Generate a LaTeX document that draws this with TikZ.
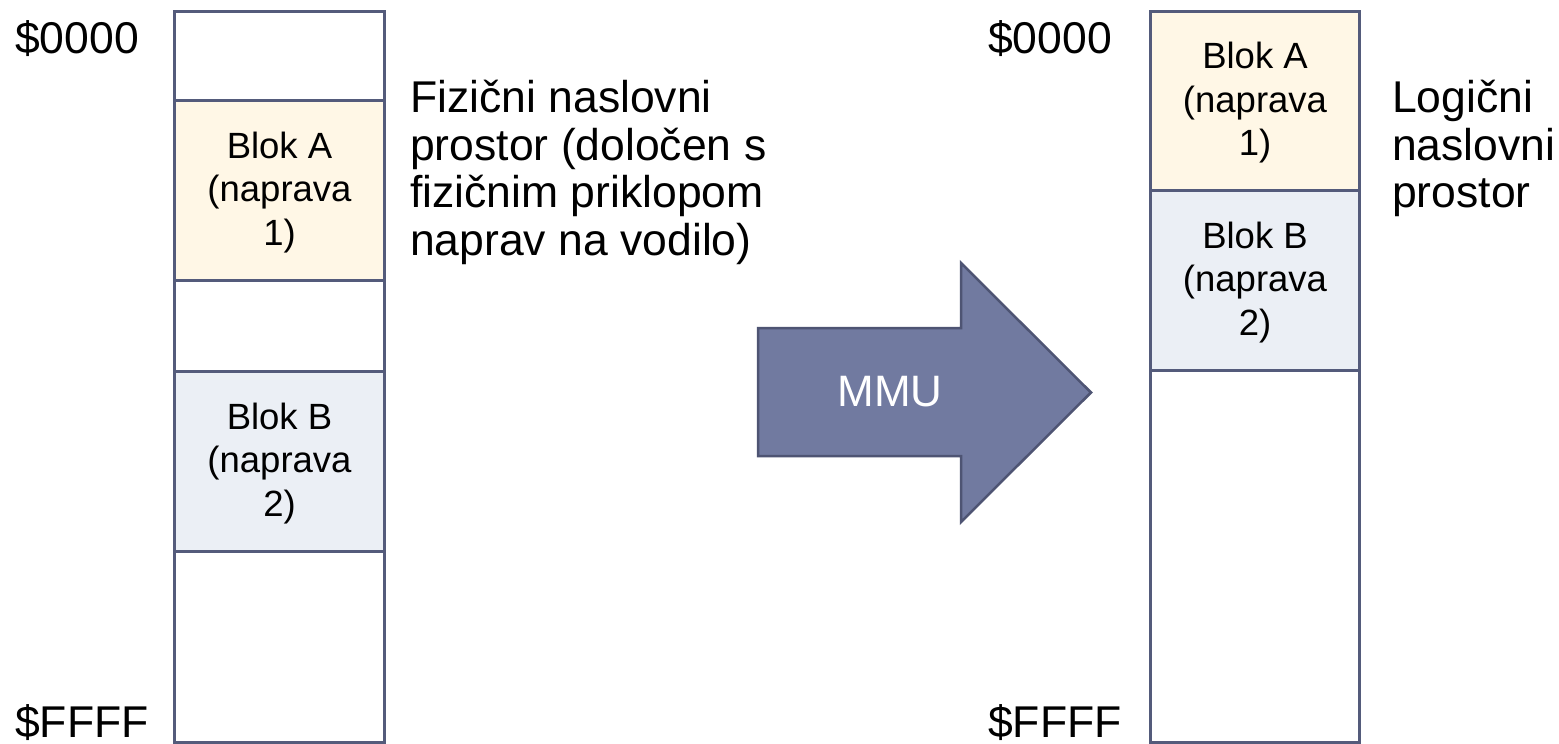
\documentclass[tikz,border=0pt]{standalone}
\usepackage{fontspec}
\setmainfont{Liberation Sans}
\definecolor{edge}{HTML}{545B7B}
\definecolor{blokA}{HTML}{FFF7E6}
\definecolor{blokB}{HTML}{EBEFF5}
\definecolor{mmufill}{HTML}{717AA0}
\definecolor{mmuedge}{HTML}{4E5473}
\tikzset{
  seg/.style={draw=edge, line width=3pt, anchor=north west, inner sep=0pt},
  blk/.style={inner sep=0pt, align=center, font=\fontsize{36.5}{43.5}\selectfont},
  addr/.style={anchor=base west, inner sep=0pt, font=\fontsize{44.5}{48}\selectfont},
  desc/.style={anchor=north west, inner sep=0pt, align=left,
    font=\fontsize{44.5}{47.5}\selectfont}
}
\begin{document}
\begin{tikzpicture}[x=1pt,y=-1pt]
\useasboundingbox[fill=white] (0,0) rectangle (1559,744);

% physical address space
\node[seg, minimum width=210pt, minimum height=89pt]  (p0) at (173,10) {};
\node[seg, fill=blokA, minimum width=210pt, minimum height=180pt] (pA) at (173,99) {};
\node[seg, minimum width=210pt, minimum height=91pt]  (p1) at (173,279) {};
\node[seg, fill=blokB, minimum width=210pt, minimum height=180pt] (pB) at (173,370) {};
\node[seg, minimum width=210pt, minimum height=191pt] (p2) at (173,550) {};
\node[blk, yshift=-2pt] (pAt) at (pA.center) {Blok A\\(naprava\\1)};
\node[blk, yshift=-2pt] (pBt) at (pB.center) {Blok B\\(naprava\\2)};

\node[addr] (pstart) at (15,53) {\$0000};
\node[addr] (pend) at (15,737) {\$FFFF};
\node[desc] (pdesc) at (410,80) {Fizični naslovni\\prostor (določen s\\fizičnim priklopom\\naprav na vodilo)};

% logical address space
\node[seg, fill=blokA, minimum width=209pt, minimum height=179pt] (lA) at (1149,10) {};
\node[seg, fill=blokB, minimum width=209pt, minimum height=180pt] (lB) at (1149,189) {};
\node[seg, minimum width=209pt, minimum height=372pt] (l0) at (1149,369) {};
\node[blk, yshift=-2pt] (lAt) at (lA.center) {Blok A\\(naprava\\1)};
\node[blk, yshift=-2pt] (lBt) at (lB.center) {Blok B\\(naprava\\2)};

\node[addr] (lstart) at (988,53) {\$0000};
\node[addr] (lend) at (988,737) {\$FFFF};
\node[desc] (ldesc) at (1392,80) {Logični\\naslovni\\prostor};

% MMU arrow
\draw[fill=mmufill, draw=mmuedge, line width=2.5pt, line join=miter]
  (758,328) -- (961,328) -- (961,263) -- (1091,392.5) -- (961,522) -- (961,456) -- (758,456) -- cycle;
\node[text=white, inner sep=0pt, font=\fontsize{44}{48}\selectfont] (mmu) at (890,392) {MMU};
\end{tikzpicture}
\end{document}
